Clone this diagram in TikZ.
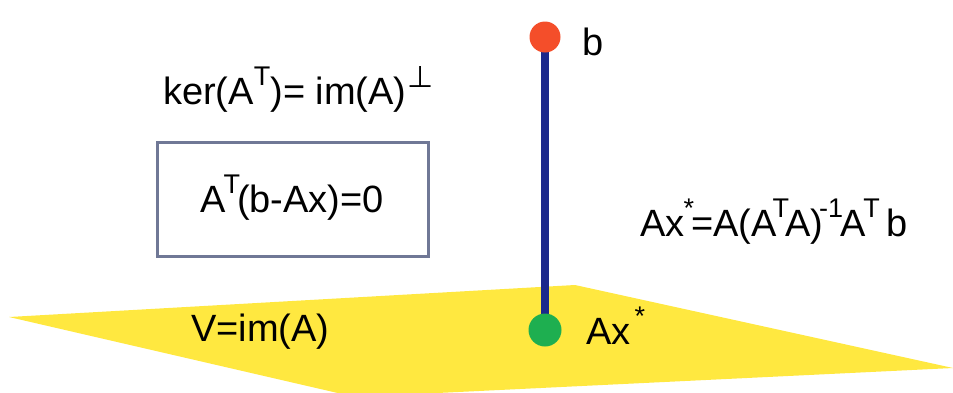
\documentclass[tikz,border=0pt]{standalone}
\usepackage{fontspec}
\setmainfont{Liberation Sans}
\newfontfamily\symfont{DejaVu Sans}
\definecolor{planeyellow}{RGB}{255,232,64}
\definecolor{segblue}{RGB}{28,40,140}
\definecolor{bred}{RGB}{244,78,42}
\definecolor{pgreen}{RGB}{30,175,80}
\definecolor{boxgray}{RGB}{112,120,150}
\newcommand{\sups}[1]{\raisebox{19pt}{\fontsize{27}{27}\selectfont #1}}
% superscript pushed closer to its neighbours
\newcommand{\supk}[3]{\kern#1\sups{#2}\kern#3\relax}

\begin{document}
\begin{tikzpicture}[x=1pt,y=-1pt,
  txt/.style={anchor=base west,inner sep=0pt,font=\fontsize{38}{44}\selectfont},
  dot/.style={circle,inner sep=0pt,minimum size=31pt}]
\useasboundingbox (0,0) rectangle (953,392);
% plane V
\fill[planeyellow] (9,317) -- (575,285) -- (953,368) -- (355,397) -- cycle;
% segment from b down to its projection
\coordinate (bpt) at (545,37);
\coordinate (ppt) at (545,330);
\draw[segblue, line width=8pt] (bpt) -- (ppt);
\node[dot, fill=bred] (b) at (bpt) {};
\node[dot, fill=pgreen, minimum height=33pt] (p) at (ppt) {};
\node[txt] (blab) at (582,55) {b};
\node[txt] (plab) at (586,344) {Ax\supk{4pt}{*}{0pt}};
\node[txt] (vlab) at (191,341) {V=im(A)};
% orthogonality
\node[txt] (ker) at (163,104) {ker(A\sups{T})= im(A)\kern1pt\raisebox{17pt}{\symfont\fontsize{30}{30}\selectfont ⊥}};
\draw[boxgray, line width=3pt] (157,142) rectangle (428,256);
\node[txt] (eq) at (200,212) {A\supk{-2pt}{T}{-3pt}(b-Ax)=0};
\node[txt] (proj) at (640,236) {Ax\supk{-1pt}{*}{-3pt}=A(A\supk{-4pt}{T}{-4pt}A)\supk{-4pt}{-1}{-3pt}A\supk{-2pt}{T}{-4pt} b};
\end{tikzpicture}
\end{document}
